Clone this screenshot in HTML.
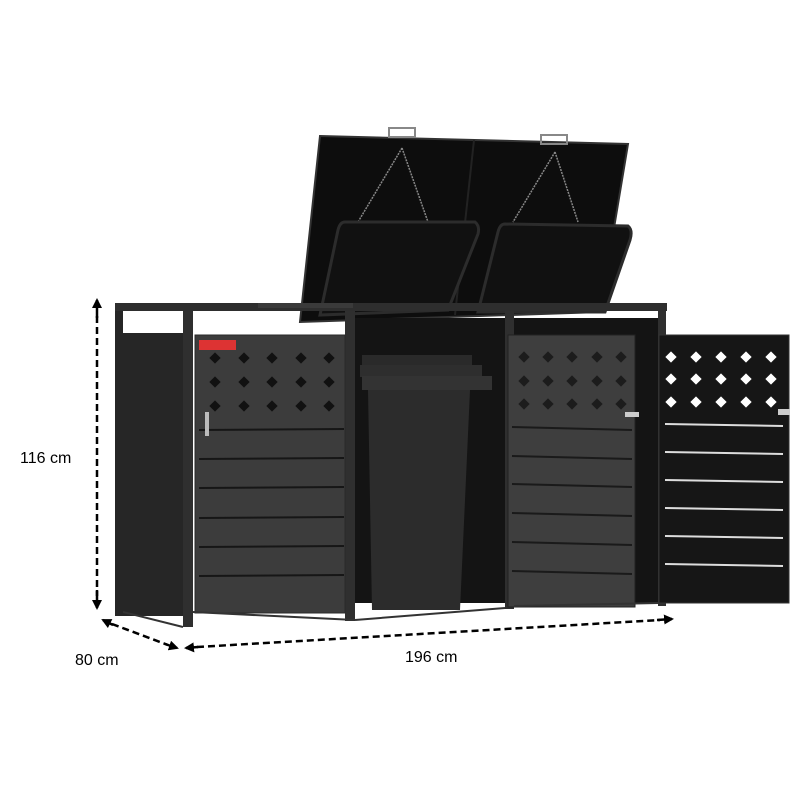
<!DOCTYPE html>
<html><head><style>body{margin:0;background:#fff}svg{display:block}</style></head><body>
<svg width="800" height="800" viewBox="0 0 800 800" xmlns="http://www.w3.org/2000/svg" font-family="Liberation Sans, sans-serif">
<defs>
<marker id="ah" markerWidth="10" markerHeight="10" refX="8" refY="5" orient="auto" markerUnits="userSpaceOnUse"><path d="M0,0 L10,5 L0,10 z" fill="#000"/></marker>
</defs>
<!-- lid -->
<polygon points="320,136 628,144 600,312 300,322" fill="#0d0d0d" stroke="#333" stroke-width="2"/>
<line x1="474" y1="140" x2="455" y2="315" stroke="#222" stroke-width="2"/>
<rect x="389" y="128" width="26" height="9" fill="none" stroke="#888" stroke-width="2"/>
<rect x="541" y="135" width="26" height="9" fill="none" stroke="#888" stroke-width="2"/>
<path d="M402,148 L358,222 M402,148 L428,222 M555,152 L513,222 M555,152 L578,222" stroke="#888" stroke-width="1.5" stroke-dasharray="2,1"/>
<!-- bin lids -->
<path d="M345,222 L475,222 Q480,226 478,234 L448,310 L320,315 L338,230 Q340,222 345,222z" fill="#111" stroke="#2c2c2c" stroke-width="3"/>
<path d="M505,224 L628,226 Q633,230 630,240 L605,312 L478,312 L498,232 Q500,224 505,224z" fill="#111" stroke="#2c2c2c" stroke-width="3"/>
<!-- top frame -->
<rect x="115" y="303" width="552" height="8" fill="#2e2e2e"/>
<rect x="258" y="303" width="95" height="5" fill="#3a3a3a"/>
<!-- inner back -->
<rect x="350" y="318" width="312" height="285" fill="#141414"/>
<!-- left side panel -->
<rect x="115" y="311" width="8" height="305" fill="#262626"/>
<rect x="123" y="333" width="62" height="283" fill="#262626"/>
<rect x="183" y="311" width="10" height="316" fill="#2f2f2f"/>
<rect x="345" y="311" width="10" height="310" fill="#2f2f2f"/>
<rect x="505" y="311" width="9" height="298" fill="#2f2f2f"/>
<rect x="658" y="311" width="8" height="295" fill="#2f2f2f"/>
<!-- left door -->
<rect x="195" y="335" width="150" height="278" fill="#3c3c3c" stroke="#2a2a2a"/>
<rect x="199" y="340" width="37" height="10" fill="#d33"/>
<g fill="#111">
<g id="dl"><rect x="211" y="354" width="8" height="8" transform="rotate(45 215 358)"/><rect x="240" y="354" width="8" height="8" transform="rotate(45 244 358)"/><rect x="268" y="354" width="8" height="8" transform="rotate(45 272 358)"/><rect x="297" y="354" width="8" height="8" transform="rotate(45 301 358)"/><rect x="325" y="354" width="8" height="8" transform="rotate(45 329 358)"/></g>
<use href="#dl" y="24"/><use href="#dl" y="48"/>
</g>
<g stroke="#161616" stroke-width="2">
<line x1="199" y1="430" x2="344" y2="429"/><line x1="199" y1="459" x2="344" y2="458"/><line x1="199" y1="488" x2="344" y2="487"/><line x1="199" y1="518" x2="344" y2="517"/><line x1="199" y1="547" x2="344" y2="546"/><line x1="199" y1="576" x2="344" y2="575"/>
</g>
<rect x="205" y="412" width="4" height="24" fill="#bbb"/>
<!-- middle bin -->
<rect x="362" y="355" width="110" height="12" fill="#2a2a2a"/>
<rect x="360" y="365" width="122" height="12" fill="#2e2e2e"/>
<rect x="362" y="376" width="130" height="14" fill="#333"/>
<polygon points="368,390 470,390 460,610 372,610" fill="#2c2c2c"/>
<!-- right door -->
<rect x="508" y="335" width="127" height="272" fill="#3e3e3e" stroke="#222"/>
<g fill="#1c1c1c">
<g id="dr"><rect x="520" y="353" width="8" height="8" transform="rotate(45 524 357)"/><rect x="544" y="353" width="8" height="8" transform="rotate(45 548 357)"/><rect x="568" y="353" width="8" height="8" transform="rotate(45 572 357)"/><rect x="593" y="353" width="8" height="8" transform="rotate(45 597 357)"/><rect x="617" y="353" width="8" height="8" transform="rotate(45 621 357)"/></g>
<use href="#dr" y="24"/><use href="#dr" y="47"/>
</g>
<g stroke="#1a1a1a" stroke-width="2">
<line x1="512" y1="427" x2="632" y2="430"/><line x1="512" y1="456" x2="632" y2="459"/><line x1="512" y1="484" x2="632" y2="487"/><line x1="512" y1="513" x2="632" y2="516"/><line x1="512" y1="542" x2="632" y2="545"/><line x1="512" y1="571" x2="632" y2="574"/>
</g>
<rect x="625" y="412" width="14" height="5" fill="#ccc"/>
<!-- far right door -->
<rect x="659" y="335" width="130" height="268" fill="#161616" stroke="#333"/>
<g fill="#fff">
<g id="dw"><rect x="667" y="353" width="8" height="8" transform="rotate(45 671 357)"/><rect x="692" y="353" width="8" height="8" transform="rotate(45 696 357)"/><rect x="717" y="353" width="8" height="8" transform="rotate(45 721 357)"/><rect x="742" y="353" width="8" height="8" transform="rotate(45 746 357)"/><rect x="767" y="353" width="8" height="8" transform="rotate(45 771 357)"/></g>
<use href="#dw" y="22"/><use href="#dw" y="45"/>
</g>
<g stroke="#ddd" stroke-width="2">
<line x1="665" y1="424" x2="783" y2="426"/><line x1="665" y1="452" x2="783" y2="454"/><line x1="665" y1="480" x2="783" y2="482"/><line x1="665" y1="508" x2="783" y2="510"/><line x1="665" y1="536" x2="783" y2="538"/><line x1="665" y1="564" x2="783" y2="566"/>
</g>
<rect x="778" y="409" width="12" height="6" fill="#ccc"/>
<!-- base -->
<path d="M123,612 L183,627 M193,612 L355,620 M355,620 L505,608 M514,606 L658,603" stroke="#333" stroke-width="2"/>
<!-- dimensions -->
<line x1="97" y1="318" x2="97" y2="300" stroke="#000" stroke-width="2.5" marker-end="url(#ah)"/>
<line x1="97" y1="316" x2="97" y2="596" stroke="#000" stroke-width="2.5" stroke-dasharray="7,4"/>
<line x1="97" y1="590" x2="97" y2="608" stroke="#000" stroke-width="2.5" marker-end="url(#ah)"/>
<line x1="113" y1="625" x2="103" y2="620" stroke="#000" stroke-width="2.5" marker-end="url(#ah)"/>
<line x1="112" y1="624" x2="168" y2="645" stroke="#000" stroke-width="2.5" stroke-dasharray="7,4"/>
<line x1="165" y1="644" x2="177" y2="648" stroke="#000" stroke-width="2.5" marker-end="url(#ah)"/>
<line x1="198" y1="647" x2="186" y2="648" stroke="#000" stroke-width="2.5" marker-end="url(#ah)"/>
<line x1="197" y1="647" x2="660" y2="620" stroke="#000" stroke-width="2.5" stroke-dasharray="7,4"/>
<line x1="657" y1="620" x2="672" y2="619" stroke="#000" stroke-width="2.5" marker-end="url(#ah)"/>
<text x="20" y="463" font-size="16" fill="#000">116 cm</text>
<text x="75" y="665" font-size="16" fill="#000">80 cm</text>
<text x="405" y="662" font-size="16" fill="#000">196 cm</text>
</svg>
</body></html>
